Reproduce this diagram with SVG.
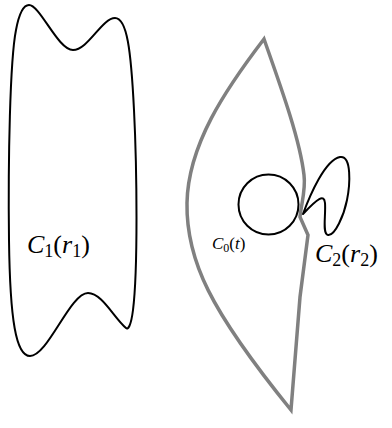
<svg xmlns="http://www.w3.org/2000/svg" width="392" height="428" viewBox="0 0 392 428">
<style>
.blk{fill:none;stroke:#000;stroke-width:2;stroke-linejoin:round}
.gry{fill:none;stroke:#808080;stroke-width:3.5;stroke-linejoin:miter}
text{font-family:'Liberation Serif','DejaVu Serif',serif;fill:#000}
.it{font-style:italic}
</style>
<rect width="392" height="428" fill="#fff"/>
<g id="C1">
<path class="blk" d="M29,5 C40,5 58,50 73,50 C88,50 102,18 115,18 C127,18 131,50 134,110 C137,170 138,270 133,310 C131,326 128,330 126,328 C114,318 102,293 88,293 C70,293 48,356 30,356 C16,356 10,320 9,240 C8,160 10,60 16,30 C19,14 23,5 29,5 Z"/>
<text font-family="Liberation Serif, serif" x="27" y="253" font-size="26"><tspan class="it">C</tspan><tspan font-size="18" dy="4">1</tspan><tspan dy="-4">(</tspan><tspan class="it">r</tspan><tspan font-size="18" dy="4">1</tspan><tspan dy="-4">)</tspan></text>
</g>
<g id="region">
<path class="gry" d="M264,39 C225,90 188,145 187,203 C186,260 210,310 291,410 L300,297 L308,235 L300,217 C301,205 306,190 304,175 C300,140 282,90 264,39 Z"/>
</g>
<g id="C0">
<circle class="blk" cx="268.5" cy="204.5" r="30"/>
<text font-family="Liberation Serif, serif" x="212" y="249" font-size="17"><tspan class="it">C</tspan><tspan font-size="12" dy="3">0</tspan><tspan dy="-3">(</tspan><tspan class="it">t</tspan>)</text>
</g>
<g id="C2">
<path class="blk" d="M303,214 C310,195 325,160 340,157 C352,155 350,185 347,200 C344,215 335,236 328,235 C322,234 326,215 325,203 C324,194 318,198 303,214 Z"/>
<text font-family="Liberation Serif, serif" x="315" y="262" font-size="26"><tspan class="it">C</tspan><tspan font-size="18" dy="4">2</tspan><tspan dy="-4">(</tspan><tspan class="it">r</tspan><tspan font-size="18" dy="4">2</tspan><tspan dy="-4">)</tspan></text>
</g>
</svg>
